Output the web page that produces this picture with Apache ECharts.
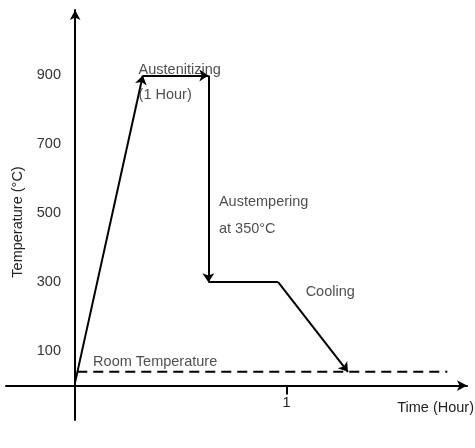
<!DOCTYPE html>
<html>
<head>
<meta charset="utf-8">
<script src="https://cdn.jsdelivr.net/npm/echarts@6/dist/echarts.min.js"></script>
<style>html,body{margin:0;padding:0;background:#fff}#c{width:475px;height:448px}</style>
</head>
<body>
<div id="c"></div>
<script>
// Process path (time in hours, temperature in °C)
const processTimes = [0.0, 0.32, 0.63, 0.63, 0.96, 1.29];
const processTemps = [10, 900, 900, 300, 300, 40];
// which segments end with an arrow (segment i: point i -> point i+1)
const segmentArrow = [true, true, true, false, true];
// Room temperature dashed line
const roomTimes = [0.01, 1.76];
const roomTemp = 40;
// Tick labels
const yTickLabels = [100, 300, 500, 700, 900];
const xTickLabels = [1];
// Annotations: [text, time, temp]
const annotationTexts = ['Austenitizing', '(1 Hour)', 'Austempering', 'at 350°C', 'Cooling', 'Room Temperature'];
const annotationTimes = [0.30, 0.30, 0.68, 0.68, 1.09, 0.085];
const annotationTemps = [916, 843, 533, 455, 272, 67];

const arrowSegs = [], plainSegs = [];
for (let i = 0; i < processTimes.length - 1; i++) {
  const seg = {coords: [[processTimes[i], processTemps[i]], [processTimes[i+1], processTemps[i+1]]]};
  (segmentArrow[i] ? arrowSegs : plainSegs).push(seg);
}
const font = 'Liberation Sans, Arial, sans-serif';
const fs = 14.5;
const chart = echarts.init(document.getElementById('c'), null, {renderer: 'canvas'});
chart.setOption({
  animation: false,
  backgroundColor: '#fff',
  grid: {left: 6, right: 8, top: 10, bottom: 28, containLabel: false, outerBoundsMode: 'none'},
  xAxis: {
    type: 'value', min: -0.327, max: 1.853,
    axisLine: {onZero: true, symbol: ['none', 'arrow'], symbolSize: [8, 10], lineStyle: {color: '#000', width: 2}},
    axisTick: {show: true, customValues: xTickLabels, length: 9, lineStyle: {color: '#000', width: 2}},
    axisLabel: {customValues: xTickLabels, color: '#222', fontSize: fs, fontFamily: font, margin: -25},
    splitLine: {show: false}
  },
  yAxis: {
    type: 'value', min: -100, max: 1090,
    axisLine: {onZero: true, symbol: ['none', 'arrow'], symbolSize: [8, 10], lineStyle: {color: '#000', width: 2}},
    axisTick: {show: false},
    axisLabel: {customValues: yTickLabels, color: '#333', fontSize: fs, fontFamily: font, margin: -55},
    splitLine: {show: false},
    name: 'Temperature (°C)', nameLocation: 'middle', nameGap: -19,
    nameTextStyle: {color: '#222', fontSize: fs, fontFamily: font, padding: [0, 14, 0, 0]}
  },
  graphic: [{
    type: 'text', right: 1, top: 400,
    style: {text: 'Time (Hour)', fill: '#222', font: fs + 'px ' + font}
  }],
  series: [
    {
      type: 'lines', coordinateSystem: 'cartesian2d', polyline: false,
      symbol: ['none', 'arrow'], symbolSize: 9,
      lineStyle: {color: '#000', width: 2, opacity: 1},
      data: arrowSegs, z: 5
    },
    {
      type: 'lines', coordinateSystem: 'cartesian2d',
      symbol: ['none', 'none'],
      lineStyle: {color: '#000', width: 2, opacity: 1},
      data: plainSegs, z: 5
    },
    {
      type: 'line', symbol: 'none',
      lineStyle: {color: '#000', width: 2, type: [10, 6]},
      data: roomTimes.map(t => [t, roomTemp]), z: 4
    },
    {
      type: 'scatter', symbolSize: 0,
      data: annotationTexts.map((t, i) => ({value: [annotationTimes[i], annotationTemps[i]], name: t})),
      label: {show: true, position: 'right', distance: 0, formatter: p => p.name,
        color: '#222', fontSize: fs, fontFamily: font},
      z: 6
    }
  ]
});
</script>
</body>
</html>
